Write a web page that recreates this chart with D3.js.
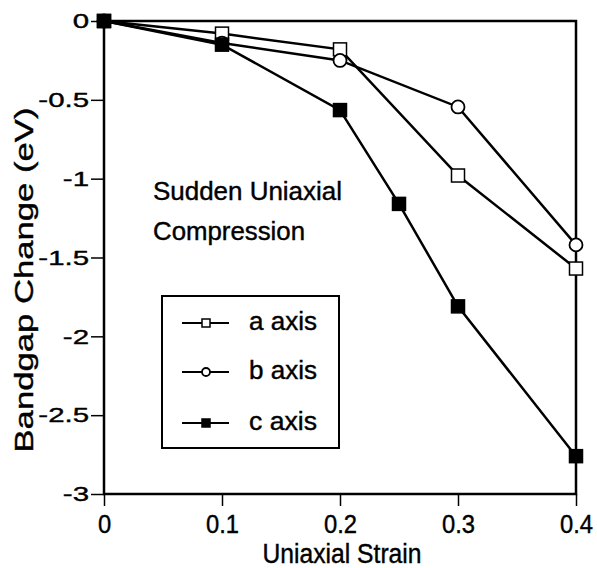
<!DOCTYPE html>
<html>
<head>
<meta charset="utf-8">
<script src="https://cdn.jsdelivr.net/npm/d3@7"></script>
<style>
  body { margin: 0; background: #fff; }
  text { font-family: "Liberation Sans", Arial, Helvetica, sans-serif; fill: #000; stroke: #000; stroke-width: 0.4px; }
</style>
</head>
<body>
<svg width="597" height="568"></svg>
<script>
// strain values and bandgap change per axis
var strainA = [0, 0.1, 0.2, 0.3, 0.4];
var gapA = [0, -0.08, -0.18, -0.98, -1.57];
var strainB = [0, 0.1, 0.2, 0.3, 0.4];
var gapB = [0, -0.14, -0.25, -0.545, -1.42];
var strainC = [0, 0.1, 0.2, 0.25, 0.3, 0.4];
var gapC = [0, -0.15, -0.565, -1.16, -1.81, -2.76];

var xTicks = [0, 0.1, 0.2, 0.3, 0.4];
var yTicks = [0, -0.5, -1, -1.5, -2, -2.5, -3];
var seriesNames = ["a axis", "b axis", "c axis"];

var svg = d3.select("svg");

var mLeft = 104, mRight = 576, mTop = 21, mBottom = 494;

var x = d3.scaleLinear().domain([0, 0.4]).range([mLeft, mRight]);
var y = d3.scaleLinear().domain([-3, 0]).range([mBottom, mTop]);

// frame
svg.append("rect")
    .attr("x", mLeft).attr("y", mTop)
    .attr("width", mRight - mLeft).attr("height", mBottom - mTop)
    .attr("fill", "none").attr("stroke", "#000").attr("stroke-width", 2.5);

var xAxis = svg.append("g")
    .attr("transform", "translate(0," + mBottom + ")")
    .call(d3.axisBottom(x).tickValues(xTicks).tickSize(12).tickPadding(9)
        .tickFormat(function(d) { return d === 0 ? "0" : d.toFixed(1); }));
var yAxis = svg.append("g")
    .attr("transform", "translate(" + mLeft + ",0)")
    .call(d3.axisLeft(y).tickValues(yTicks).tickSize(13).tickPadding(2)
        .tickFormat(function(d) { return String(d); }));

// scanned labels: x labels a bit narrow, y labels drawn wide
function styleAxis(g, size, stretch) {
  g.select(".domain").remove();
  g.selectAll("line").attr("stroke", "#000").attr("stroke-width", 1.5);
  g.selectAll("text").attr("font-family", null).attr("fill", null)
      .style("font-size", size + "px")
      .each(function() {
        var w = this.getComputedTextLength();
        d3.select(this).attr("textLength", w * stretch).attr("lengthAdjust", "spacingAndGlyphs");
      });
}
styleAxis(xAxis, 25, 0.95);
styleAxis(yAxis, 21, 1.4);

svg.append("text")
    .attr("x", 342).attr("y", 563)
    .attr("text-anchor", "middle").attr("font-size", 27)
    .attr("textLength", 159).attr("lengthAdjust", "spacingAndGlyphs")
    .text("Uniaxial Strain");
svg.append("text")
    .attr("transform", "translate(33,280) rotate(-90)")
    .attr("text-anchor", "middle").attr("font-size", 25)
    .attr("textLength", 345).attr("lengthAdjust", "spacingAndGlyphs")
    .text("Bandgap Change (eV)");

var line = d3.line().x(function(d) { return x(d[0]); }).y(function(d) { return y(d[1]); });

var series = [
  { pts: d3.zip(strainA, gapA), shape: "square", fill: "#fff" },
  { pts: d3.zip(strainB, gapB), shape: "circle", fill: "#fff" },
  { pts: d3.zip(strainC, gapC), shape: "square", fill: "#000" }
];

function marker(g, shape, fill, size) {
  if (shape === "circle") {
    g.append("circle").attr("r", size / 2)
        .attr("fill", fill).attr("stroke", "#000").attr("stroke-width", 1.8);
  } else {
    g.append("rect").attr("x", -size / 2).attr("y", -size / 2)
        .attr("width", size).attr("height", size)
        .attr("fill", fill).attr("stroke", "#000").attr("stroke-width", 1.5);
  }
}

series.forEach(function(s) {
  svg.append("path")
      .attr("d", line(s.pts))
      .attr("fill", "none").attr("stroke", "#000").attr("stroke-width", 2.5);
});
series.forEach(function(s) {
  svg.selectAll(null).data(s.pts).enter().append("g")
      .attr("transform", function(d) { return "translate(" + x(d[0]) + "," + y(d[1]) + ")"; })
      .each(function() { marker(d3.select(this), s.shape, s.fill, 13); });
});

// annotation
svg.append("text").attr("x", 153).attr("y", 200).attr("font-size", 25)
    .attr("textLength", 189).attr("lengthAdjust", "spacingAndGlyphs").text("Sudden Uniaxial");
svg.append("text").attr("x", 153).attr("y", 240).attr("font-size", 25)
    .attr("textLength", 152).attr("lengthAdjust", "spacingAndGlyphs").text("Compression");

// legend
var legend = svg.append("g");
legend.append("rect")
    .attr("x", 162).attr("y", 296).attr("width", 177).attr("height", 152)
    .attr("fill", "#fff").attr("stroke", "#000").attr("stroke-width", 2);
var rowY = [323, 372, 423];
series.forEach(function(s, i) {
  var row = legend.append("g").attr("transform", "translate(0," + rowY[i] + ")");
  row.append("line").attr("x1", 182).attr("x2", 229)
      .attr("stroke", "#000").attr("stroke-width", 2);
  marker(row.append("g").attr("transform", "translate(206,0)"), s.shape, s.fill, 8);
  row.append("text").attr("x", 249).attr("y", 7).attr("font-size", 25)
      .attr("textLength", 68).attr("lengthAdjust", "spacingAndGlyphs").text(seriesNames[i]);
});
</script>
</body>
</html>
